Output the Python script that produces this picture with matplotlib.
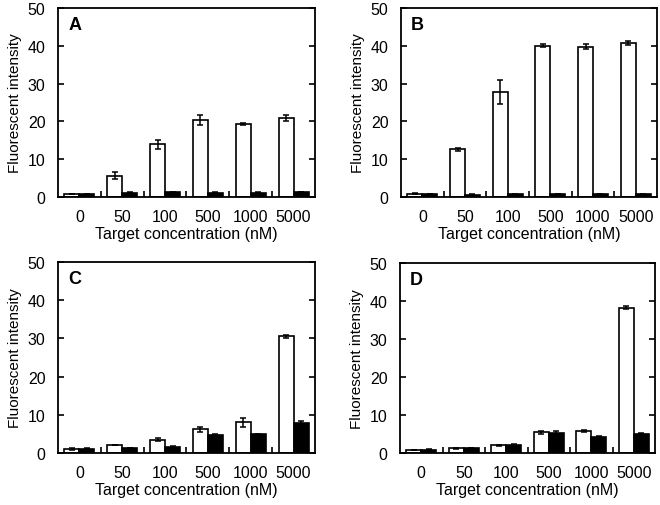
import matplotlib.pyplot as plt
import numpy as np

plt.rcParams['font.family'] = ['Liberation Sans', 'DejaVu Sans']

labels = ['0', '50', '100', '500', '1000', '5000']

# panel A
A_white = [0.8, 5.6, 14.0, 20.4, 19.3, 21.0]
A_white_err = [0.1, 0.9, 1.2, 1.3, 0.3, 0.8]
A_black = [0.8, 1.1, 1.2, 1.1, 1.1, 1.3]
A_black_err = [0.1, 0.1, 0.2, 0.1, 0.1, 0.1]

# panel B
B_white = [0.9, 12.6, 27.8, 40.0, 39.8, 40.7]
B_white_err = [0.1, 0.3, 3.1, 0.4, 0.7, 0.6]
B_black = [0.8, 0.6, 0.7, 0.8, 0.7, 0.7]
B_black_err = [0.1, 0.1, 0.1, 0.1, 0.1, 0.1]

# panel C
C_white = [1.0, 2.1, 3.5, 6.2, 8.0, 30.6]
C_white_err = [0.3, 0.1, 0.4, 0.6, 1.2, 0.4]
C_black = [1.1, 1.3, 1.6, 4.7, 4.9, 7.8]
C_black_err = [0.1, 0.1, 0.2, 0.3, 0.1, 0.6]

# panel D
D_white = [0.8, 1.2, 2.0, 5.5, 5.8, 38.2]
D_white_err = [0.1, 0.2, 0.2, 0.4, 0.3, 0.4]
D_black = [0.9, 1.3, 2.1, 5.3, 4.3, 5.1]
D_black_err = [0.1, 0.1, 0.3, 0.4, 0.2, 0.1]

panels = [
    ('A', A_white, A_white_err, A_black, A_black_err, [58, 9, 315, 198]),
    ('B', B_white, B_white_err, B_black, B_black_err, [401, 9, 657, 198]),
    ('C', C_white, C_white_err, C_black, C_black_err, [58, 263, 315, 454]),
    ('D', D_white, D_white_err, D_black, D_black_err, [400, 264, 655, 454]),
]

W, H = 660, 506
fig = plt.figure(figsize=(6.6, 5.06), dpi=100)

x = np.arange(len(labels))
bw = 0.35

for name, wv, we, bv, be, box in panels:
    l, t, r, b = box
    ax = fig.add_axes([l / W, 1 - b / H, (r - l) / W, (b - t) / H])

    ax.bar(x - bw / 2, wv, bw, color='white', edgecolor='black', linewidth=1.2,
           yerr=we, error_kw=dict(ecolor='black', elinewidth=1.1, capsize=2.5, capthick=1.1))
    ax.bar(x + bw / 2, bv, bw, color='black', edgecolor='black', linewidth=1.2,
           yerr=be, error_kw=dict(ecolor='black', elinewidth=1.1, capsize=2.5, capthick=1.1))

    ax.set_xlim(-0.5, 5.5)
    ax.set_ylim(0, 50)
    ax.set_yticks([0, 10, 20, 30, 40, 50])
    ax.set_xticks(x)
    ax.set_xticklabels(labels)
    ax.set_xticks(np.arange(0.5, 5.5, 1), minor=True)
    ax.tick_params(axis='x', which='major', length=0, labelsize=11.5, pad=9)
    ax.tick_params(axis='x', which='minor', direction='in', length=4, width=1.2)
    ax.tick_params(axis='y', direction='in', length=4, width=1.2, right=True,
                   labelsize=11.5, pad=9)
    for s in ax.spines.values():
        s.set_linewidth(1.3)

    ax.set_xlabel('Target concentration (nM)', fontsize=11.5, labelpad=1)
    ax.set_ylabel('Fluorescent intensity', fontsize=11, labelpad=4)
    ax.text(0.04, 0.96, name, transform=ax.transAxes, fontsize=13,
            fontweight='bold', va='top', ha='left')

fig.savefig('out.png', dpi=100)
